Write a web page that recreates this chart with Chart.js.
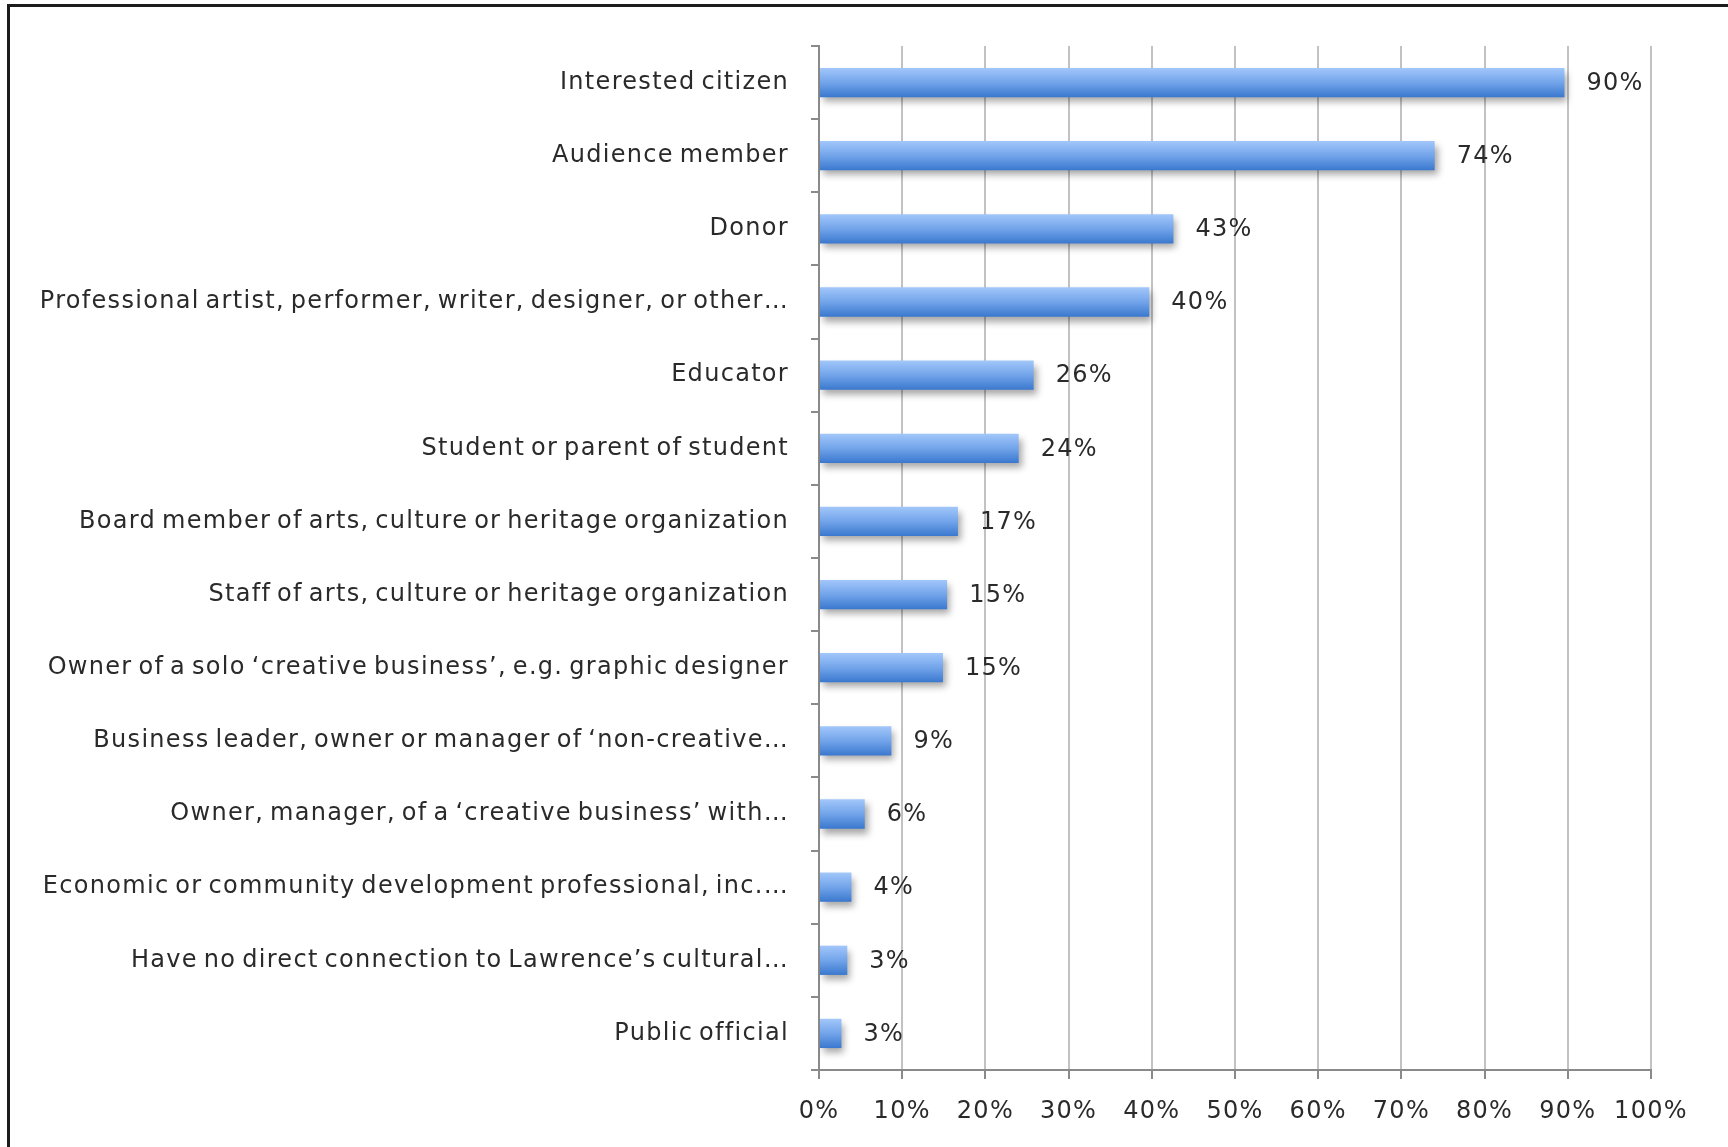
<!DOCTYPE html>
<html>
<head>
<meta charset="utf-8">
<script src="https://cdn.jsdelivr.net/npm/chart.js@4.4.0/dist/chart.umd.min.js"></script>
<style>
  html, body { margin: 0; padding: 0; background: #fff; }
  #wrap { position: relative; width: 1728px; height: 1147px; overflow: hidden; }
  #wrap canvas { position: absolute; left: 0; top: 0; }
  #frame { position: absolute; left: 7px; top: 4px; width: 1760px; height: 1200px;
           border-left: 3px solid #1c1c1c; border-top: 3px solid #1c1c1c; pointer-events: none; }
</style>
</head>
<body>
<div id="wrap">
  <canvas id="rolesChart" width="1728" height="1147"></canvas>
  <div id="frame"></div>
</div>
<script>
// categories, top to bottom
const categories = [
    'Interested citizen',
    'Audience member',
    'Donor',
    'Professional artist, performer, writer, designer, or other\u2026',
    'Educator',
    'Student or parent of student',
    'Board member of arts, culture or heritage organization',
    'Staff of arts, culture or heritage organization',
    'Owner of a solo \u2018creative business\u2019, e.g. graphic designer',
    'Business leader, owner or manager of \u2018non-creative\u2026',
    'Owner, manager, of a \u2018creative business\u2019 with\u2026',
    'Economic or community development professional, inc.\u2026',
    'Have no direct connection to Lawrence\u2019s cultural\u2026',
    'Public official'
];
// share of respondents (%)
const shares = [89.6, 74.0, 42.6, 39.7, 25.8, 24.0, 16.7, 15.4, 14.9, 8.7, 5.5, 3.9, 3.4, 2.7];
// value labels as printed next to the bars
const shareText = ['90%', '74%', '43%', '40%', '26%', '24%', '17%', '15%', '15%', '9%', '6%', '4%', '3%', '3%'];
// x axis ticks
const xTicks = [0, 10, 20, 30, 40, 50, 60, 70, 80, 90, 100];

const FONT = { family: '"DejaVu Sans", Verdana, sans-serif', size: 24 };
const TEXT = '#2a2a2a';

function barGradient(c) {
    const chart = c.chart;
    const y = chart.scales.y;
    if (!y || c.dataIndex === undefined) return '#5d94e0';
    const mid = y.getPixelForValue(c.dataIndex);
    const half = (y.height / categories.length) * 0.4 / 2;
    if (!Number.isFinite(mid) || !Number.isFinite(half) || half <= 0) return '#5d94e0';
    const g = chart.ctx.createLinearGradient(0, mid - half, 0, mid + half);
    g.addColorStop(0, '#a2c7fa');
    g.addColorStop(0.5, '#72a4ea');
    g.addColorStop(1, '#3a78ce');
    return g;
}

// the old chart text is loosely spaced with narrow word gaps
function spaceText(ctx) {
    ctx.letterSpacing = '1.3px';
    ctx.wordSpacing = '-3px';
}
const textSpacing = {
    id: 'textSpacing',
    beforeLayout: chart => spaceText(chart.ctx),
    beforeDraw: chart => spaceText(chart.ctx)
};

// soft drop shadow under bars, then the value labels
const barDecor = {
    id: 'barDecor',
    beforeDatasetsDraw: chart => {
        const ctx = chart.ctx;
        ctx.save();
        ctx.shadowColor = 'rgba(0,0,0,0.35)';
        ctx.shadowBlur = 7;
        ctx.shadowOffsetX = 3;
        ctx.shadowOffsetY = 5;
    },
    afterDatasetsDraw: chart => {
        const ctx = chart.ctx;
        ctx.restore();
        const meta = chart.getDatasetMeta(0);
        ctx.save();
        ctx.font = FONT.size + 'px ' + FONT.family;
        ctx.fillStyle = TEXT;
        ctx.textAlign = 'left';
        ctx.textBaseline = 'middle';
        meta.data.forEach((bar, i) => {
            ctx.fillText(shareText[i], bar.x + 22, bar.y + 1);
        });
        ctx.restore();
    }
};

new Chart(document.getElementById('rolesChart').getContext('2d'), {
    type: 'bar',
    data: {
        labels: categories,
        datasets: [{
            data: shares,
            backgroundColor: barGradient,
            borderWidth: 0,
            barPercentage: 0.4,
            categoryPercentage: 1
        }]
    },
    options: {
        indexAxis: 'y',
        responsive: false,
        animation: false,
        layout: { padding: { top: 46, right: 77, bottom: 0, left: 0 } },
        plugins: {
            legend: { display: false },
            tooltip: { enabled: false }
        },
        scales: {
            x: {
                min: 0,
                max: 100,
                afterBuildTicks: axis => { axis.ticks = xTicks.map(v => ({ value: v })); },
                afterFit: axis => { axis.height = 77; },
                grid: { color: '#c2c2c2', lineWidth: 2, tickLength: 9, tickColor: '#8a8a8a' },
                border: { color: '#8a8a8a', width: 2 },
                ticks: {
                    color: TEXT,
                    font: FONT,
                    padding: 18,
                    maxRotation: 0,
                    callback: v => v + '%'
                }
            },
            y: {
                afterFit: axis => { axis.width = 819; },
                grid: { drawOnChartArea: false, offset: true, tickLength: 8, color: '#8a8a8a', lineWidth: 2 },
                border: { color: '#8a8a8a', width: 2 },
                ticks: { color: TEXT, font: FONT, padding: 22, autoSkip: false }
            }
        }
    },
    plugins: [textSpacing, barDecor]
});
</script>
</body>
</html>
